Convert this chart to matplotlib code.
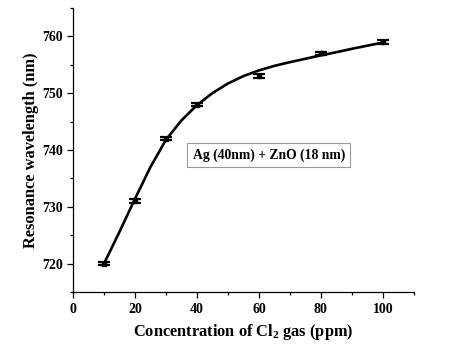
import matplotlib.pyplot as plt
from matplotlib.ticker import MultipleLocator

conc = [10, 20, 30, 40, 60, 80, 100]
wavelength = [720, 731, 742, 748, 753, 757, 759]
err = [0.3, 0.3, 0.3, 0.3, 0.3, 0.3, 0.3]

# fitted curve
fit_x = [10, 15, 20, 25, 30, 35, 40, 45, 50, 55, 60, 65, 70, 75, 80, 85, 90, 95, 100]
fit_y = [720.0, 725.6, 731.4, 737.0, 741.8, 745.2, 747.9, 750.0, 751.7, 753.0, 754.0,
         754.8, 755.45, 756.05, 756.65, 757.2, 757.8, 758.35, 758.9]

plt.rcParams['font.family'] = 'Liberation Serif'
plt.rcParams['font.weight'] = 'bold'
plt.rcParams['mathtext.fontset'] = 'custom'
plt.rcParams['mathtext.bf'] = 'Liberation Serif:bold'
plt.rcParams['mathtext.rm'] = 'Liberation Serif:bold'

fig = plt.figure(figsize=(4.74, 3.58), dpi=100)
ax = fig.add_axes([0.154, 0.184, 0.719, 0.794])

ax.plot(fit_x, fit_y, color='black', lw=1.9, solid_capstyle='round', solid_joinstyle='round')
ax.errorbar(conc, wavelength, yerr=err, fmt='s', color='black', ms=2.5,
            capsize=4.5, capthick=1.6, elinewidth=1.2)

ax.set_xlim(0, 110)
ax.set_ylim(715, 765)
ax.xaxis.set_major_locator(MultipleLocator(20))
ax.xaxis.set_minor_locator(MultipleLocator(10))
ax.yaxis.set_major_locator(MultipleLocator(10))
ax.yaxis.set_minor_locator(MultipleLocator(5))
ax.tick_params(which='major', length=4, width=0.9, labelsize=10)
ax.tick_params(which='minor', length=2.5, width=0.9)
for s in ['top', 'right']:
    ax.spines[s].set_visible(False)
for s in ['left', 'bottom']:
    ax.spines[s].set_linewidth(0.9)

ax.set_xlabel('Concentration of Cl$_\\mathbf{2}$ gas (ppm)', fontsize=11.8, fontweight='bold', labelpad=5)
ax.set_ylabel('Resonance wavelength (nm)', fontsize=11.8, fontweight='bold', labelpad=2)

ax.text(63.2, 739.1, 'Ag (40nm) + ZnO (18 nm)', fontsize=9.8, fontweight='bold',
        ha='center', va='center',
        bbox=dict(boxstyle='square,pad=0.4', fc='white', ec='#999999', lw=0.8))

fig.savefig('out.png', dpi=100)
